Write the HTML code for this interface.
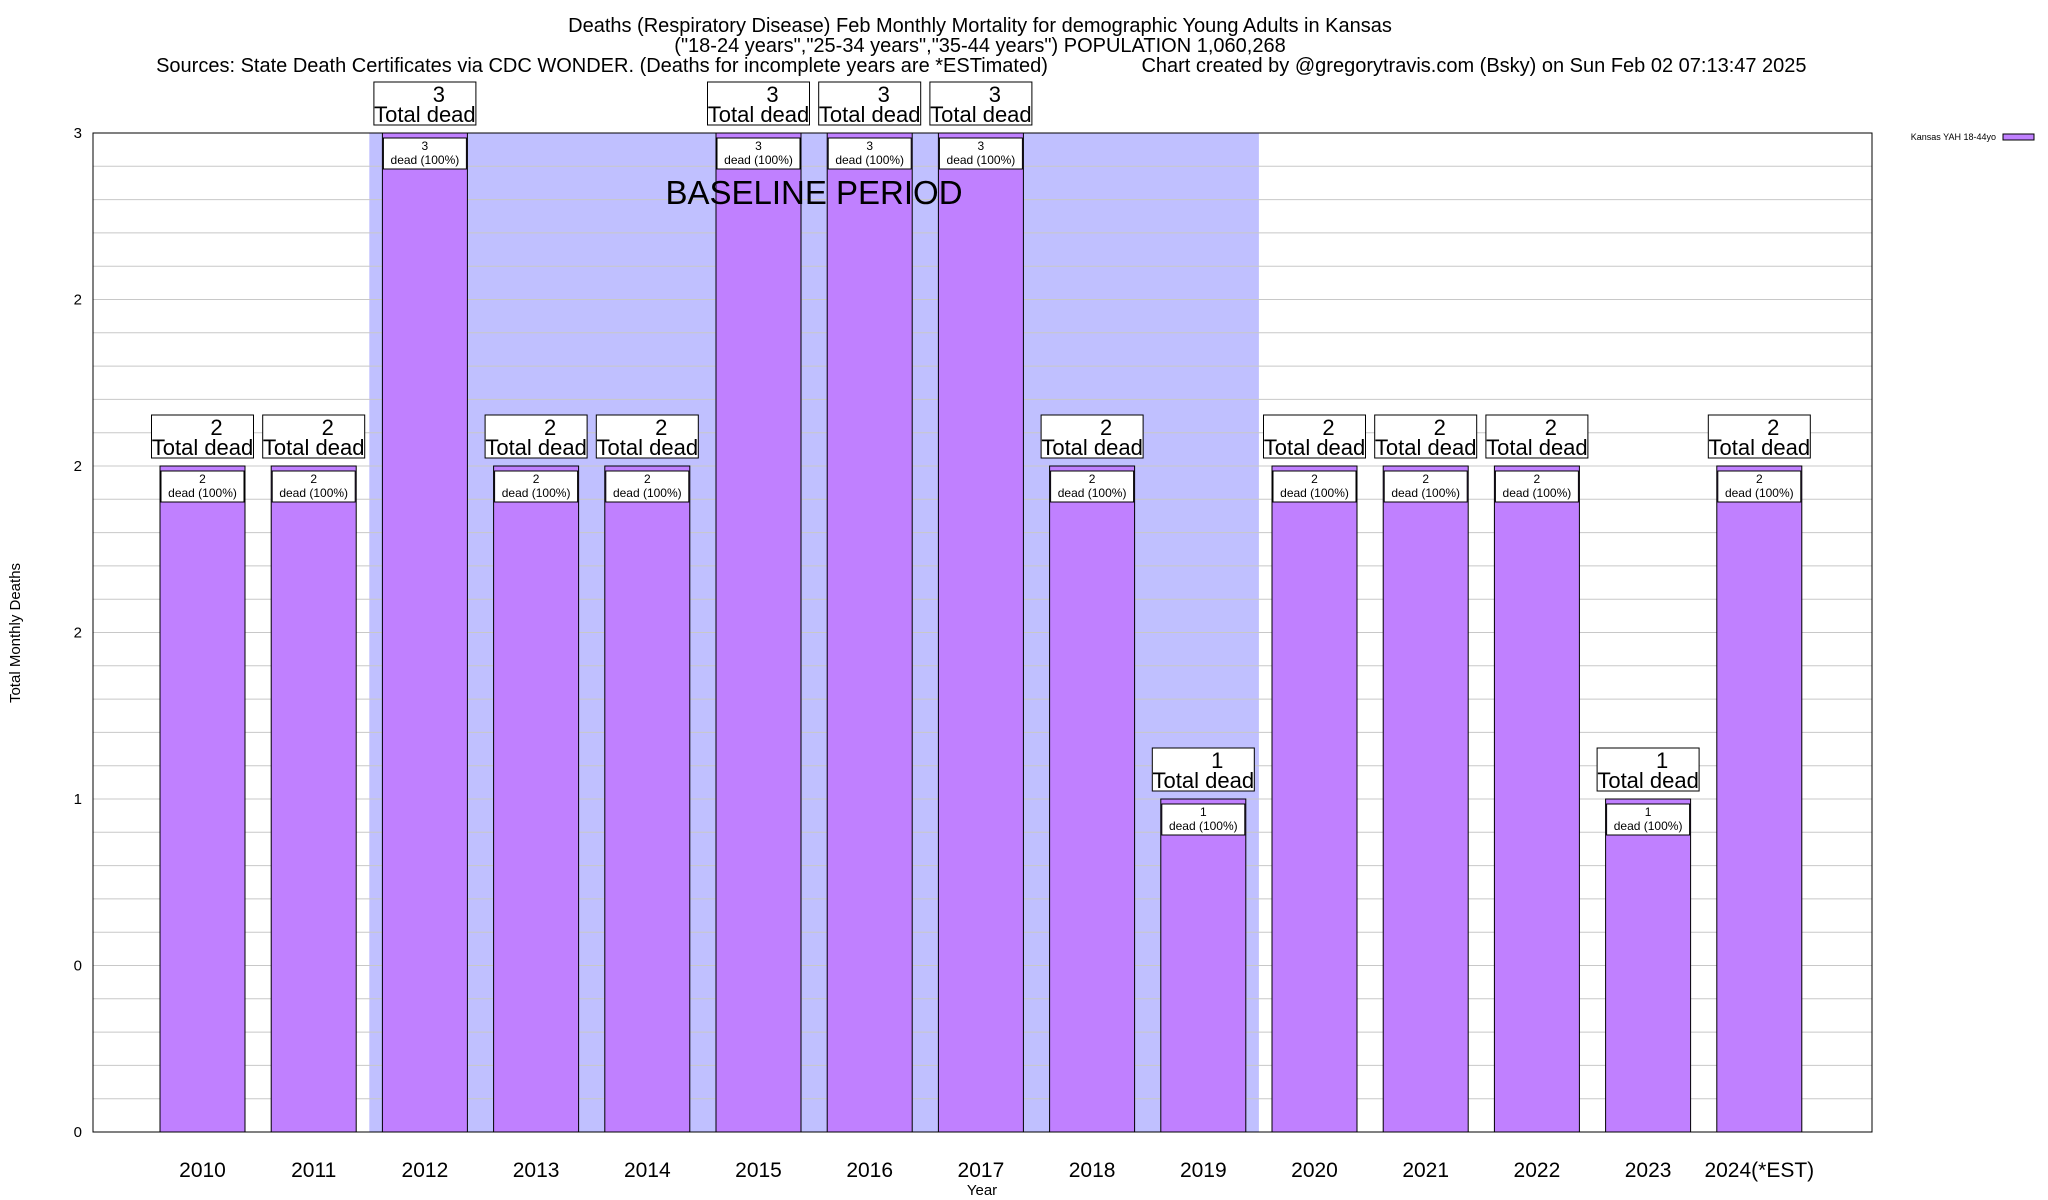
<!DOCTYPE html>
<html><head><meta charset="utf-8"><style>
html,body{margin:0;padding:0;background:#fff}
svg{display:block;font-family:"Liberation Sans",sans-serif}
</style></head><body>
<svg id="c" width="2048" height="1200" viewBox="0 0 2048 1200">
<g font-size="20" text-anchor="middle">
<text x="980" y="32">Deaths (Respiratory Disease) Feb Monthly Mortality for demographic Young Adults in Kansas</text>
<text x="980" y="52">("18-24 years","25-34 years","35-44 years") POPULATION 1,060,268</text>
<text x="602" y="72">Sources: State Death Certificates via CDC WONDER. (Deaths for incomplete years are *ESTimated)</text>
<text x="1474" y="72">Chart created by @gregorytravis.com (Bsky) on Sun Feb 02 07:13:47 2025</text>
</g>
<g id="plot"></g>
<text x="20" y="633" font-size="15" text-anchor="middle" transform="rotate(-90 20 633)">Total Monthly Deaths</text>
<text x="982" y="1195" font-size="15" text-anchor="middle">Year</text>
<g>
<text x="1996" y="140" font-size="9" text-anchor="end">Kansas YAH 18-44yo</text>
<rect x="2003" y="134" width="31" height="6" fill="#c080ff" stroke="#000" stroke-width="1"/>
</g>
</svg>
<script>
const categories=["2010","2011","2012","2013","2014","2015","2016","2017","2018","2019","2020","2021","2022","2023","2024(*EST)"];
const deaths=[2,2,3,2,2,3,3,3,2,1,2,2,2,1,2];
const tickValues=[0,0.5,1,1.5,2,2.5,3];
const tickLabels=["0","0","1","2","2","2","3"];
const baselineRange=[2012,2019];
const NS="http://www.w3.org/2000/svg";
const L=93,R=1872,T=133,B=1132,yMax=3;
const y=v=>B-(v/yMax)*(B-T);
const step=111.2,x0=202.5;
const x=i=>x0+i*step;
const g=document.getElementById('plot');
function mk(tag,attrs,parent){const e=document.createElementNS(NS,tag);for(const k in attrs)e.setAttribute(k,attrs[k]);(parent||g).appendChild(e);return e;}
const bi0=categories.indexOf(String(baselineRange[0])),bi1=categories.indexOf(String(baselineRange[1]));
const sh=mk('rect',{x:x(bi0)-step/2,y:T,width:(bi1-bi0+1)*step,height:B-T,fill:'#c0c0ff'});


for(let k=0;k<=30;k++){const v=k*0.1;const l=mk('line',{x1:L,x2:R,y1:y(v),y2:y(v),stroke:'#c8c8c8','stroke-width':1});

}
tickValues.forEach((v,i)=>{const t=mk('text',{x:82,y:y(v)+5,'font-size':15,'text-anchor':'end'});t.textContent=tickLabels[i];

});
categories.forEach((c,i)=>{
 const cx=x(i),v=deaths[i];
 const b=mk('rect',{x:cx-42.5,y:y(v),width:85,height:B-y(v),fill:'#c080ff',stroke:'#000','stroke-width':1});
 
 
 const ib=mk('rect',{x:cx-41.5,y:y(v)+5,width:83,height:31,fill:'#fff',stroke:'#000','stroke-width':1});
 
 
 const t1=mk('text',{x:cx,y:y(v)+17,'font-size':12,'text-anchor':'middle'});t1.textContent=v;
 
 
 const t2=mk('text',{x:cx,y:y(v)+31,'font-size':12,'text-anchor':'middle'});t2.textContent='dead (100%)';
 
 
 const ob=mk('rect',{x:cx-51,y:y(v)-51,width:102,height:43,fill:'#fff',stroke:'#000','stroke-width':1});
 
 
 const o1=mk('text',{x:cx+14,y:y(v)-31,'font-size':22,'text-anchor':'middle'});o1.textContent=v;
 
 
 const o2=mk('text',{x:cx,y:y(v)-11,'font-size':22,'text-anchor':'middle'});o2.textContent='Total dead';
 
 
 const xl=mk('text',{x:cx,y:1177,'font-size':21,'text-anchor':'middle'});xl.textContent=c;
 
 
});
const bl=mk('text',{x:814,y:204,'font-size':33,'text-anchor':'middle'});bl.textContent='BASELINE PERIOD';


const fr=mk('rect',{x:L,y:T,width:R-L,height:B-T,fill:'none',stroke:'#000','stroke-width':1});


</script>
</body></html>
